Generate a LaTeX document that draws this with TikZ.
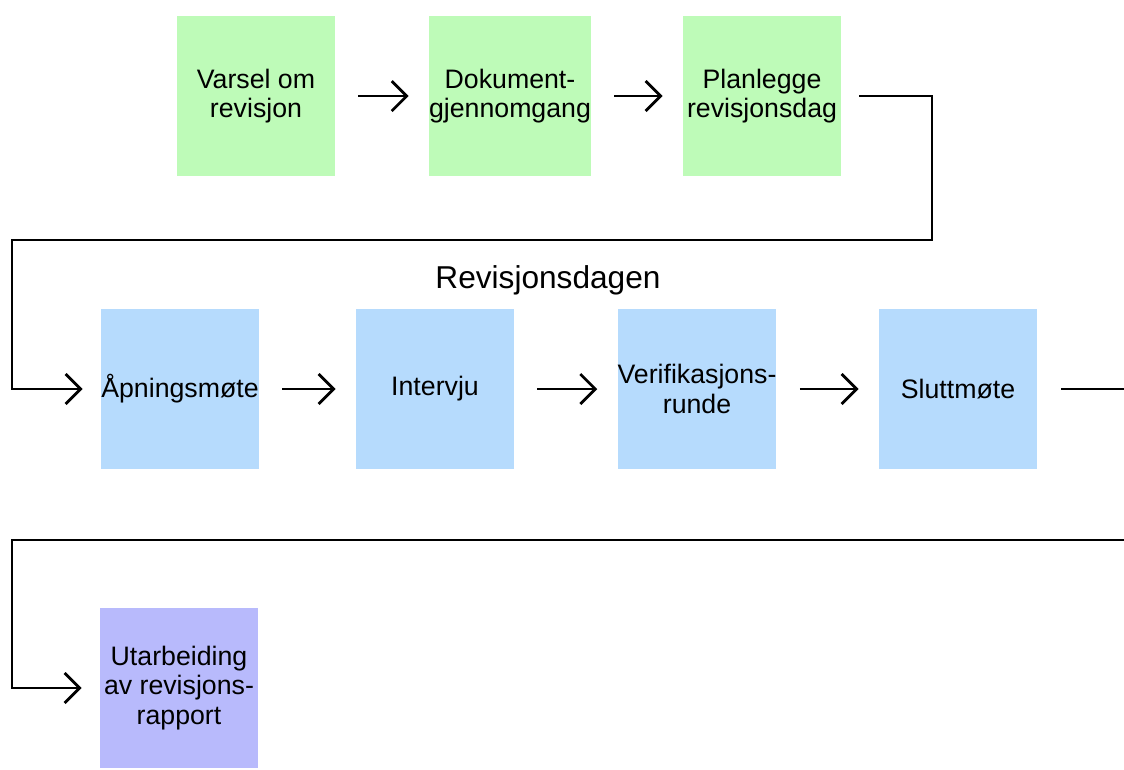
\documentclass[tikz,border=0pt]{standalone}
\usepackage{fontspec}
\setmainfont{Liberation Sans}
\usetikzlibrary{arrows.meta}
\definecolor{gronn}{RGB}{190,251,184}
\definecolor{blaa}{RGB}{182,219,253}
\definecolor{lilla}{RGB}{184,186,252}

\begin{document}
\begin{tikzpicture}[x=0.02cm, y=-0.02cm,
    boks/.style={fill=#1, minimum width=3.16cm, minimum height=3.2cm, align=center, inner sep=0pt, font=\fontsize{15.2}{16.6}\selectfont},
    linje/.style={line width=1.6pt},
    pil/.style={linje, -{Straight Barb[length=0.3cm, width=0.6cm]}, shorten <=0.46cm, shorten >=0.4cm}]
                        \useasboundingbox (0,0) rectangle (1124,769);
                        \node[boks=gronn] (v1) at (256,96) {Varsel om\\revisjon};
                        \node[boks=gronn] (v2) at (510,96) {Dokument-\\gjennomgang};
                        \node[boks=gronn] (v3) at (762,96) {Planlegge\\revisjonsdag};
                        \node[font=\fontsize{18}{20}\selectfont] (dag) at (548,280) {Revisjonsdagen};
                        \node[boks=blaa] (r1) at (180,389) {Åpningsmøte};
                        \node[boks=blaa] (r2) at (435,389) {Intervju};
                        \node[boks=blaa] (r3) at (697,389) {Verifikasjons-\\runde};
                        \node[boks=blaa] (r4) at (958,389) {Sluttmøte};
                        \node[boks=lilla] (u1) at (179,688) {Utarbeiding\\av revisjons-\\rapport};
                        \coordinate (k1) at (932,240);
                        \coordinate (k2) at (12,240);
                        \coordinate (k3) at (1124,389);
                        \coordinate (k4) at (1124,540);
                        \coordinate (k5) at (12,540);
                        \draw
                        (v1) edge[pil] (v2)
                        (v2) edge[pil] (v3)
                        (r1) edge[pil] (r2)
                        (r2) edge[pil] (r3)
                        (r3) edge[pil] (r4);
                        \draw[pil, shorten <=0.36cm, shorten >=0.36cm] (v3.east) -| (k1) -- (k2) |- (r1.west);
                        \draw[linje, shorten <=0.48cm] (r4.east) -- (k3);
                        \draw[pil, shorten <=0pt, shorten >=0.36cm] (k4) -- (k5) |- (u1.west);
                    \end{tikzpicture}
\end{document}
